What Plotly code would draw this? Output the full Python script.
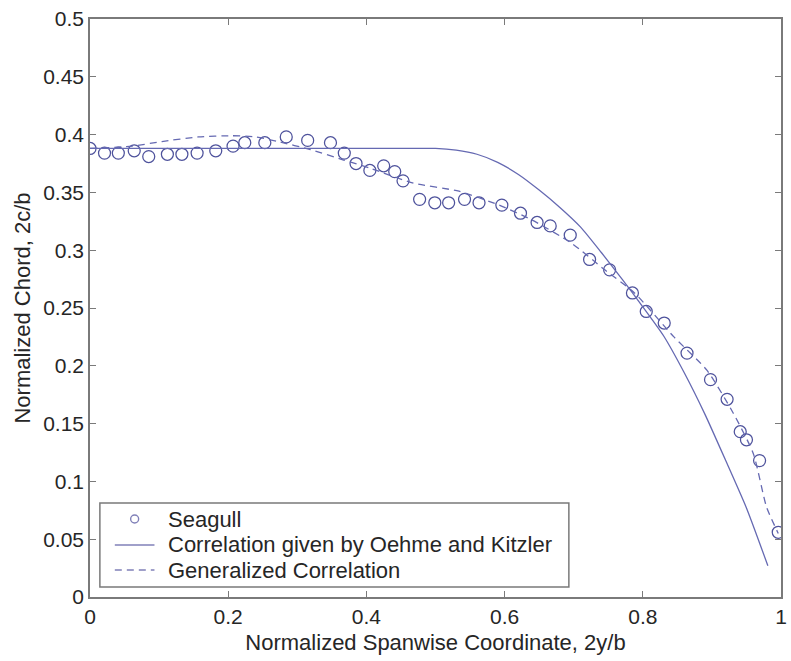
import plotly.graph_objects as go

# Measured seagull wing planform: spanwise station vs. normalized chord
span_seagull = [0.000, 0.021, 0.041, 0.064, 0.085, 0.112, 0.133, 0.155, 0.182, 0.207,
                0.224, 0.253, 0.284, 0.315, 0.348, 0.368, 0.385, 0.405, 0.425, 0.441,
                0.453, 0.477, 0.499, 0.519, 0.542, 0.563, 0.596, 0.623, 0.647, 0.666,
                0.695, 0.723, 0.752, 0.785, 0.805, 0.831, 0.864, 0.898, 0.922, 0.941,
                0.950, 0.969, 0.996]
chord_seagull = [0.388, 0.384, 0.384, 0.386, 0.381, 0.383, 0.383, 0.384, 0.386, 0.390,
                 0.393, 0.393, 0.398, 0.395, 0.393, 0.384, 0.375, 0.369, 0.373, 0.368,
                 0.360, 0.344, 0.341, 0.341, 0.344, 0.341, 0.339, 0.332, 0.324, 0.321,
                 0.313, 0.292, 0.283, 0.263, 0.247, 0.237, 0.211, 0.188, 0.171, 0.143,
                 0.136, 0.118, 0.056]

# Oehme and Kitzler correlation
span_ok = [0.000, 0.100, 0.200, 0.300, 0.400, 0.500, 0.530, 0.560, 0.590, 0.620,
           0.650, 0.680, 0.710, 0.740, 0.770, 0.800, 0.830, 0.860, 0.890, 0.920,
           0.950, 0.981]
chord_ok = [0.388, 0.388, 0.388, 0.388, 0.388, 0.388, 0.3865, 0.383, 0.376, 0.3655,
            0.352, 0.337, 0.320, 0.298, 0.275, 0.251, 0.226, 0.194, 0.158, 0.118,
            0.077, 0.027]

# Generalized correlation
span_gen = [0.000, 0.061, 0.104, 0.157, 0.205, 0.240, 0.272, 0.319, 0.367, 0.405,
            0.468, 0.534, 0.592, 0.640, 0.697, 0.745, 0.788, 0.845, 0.893, 0.931,
            0.960, 0.979, 0.996]
chord_gen = [0.388, 0.390, 0.394, 0.398, 0.399, 0.398, 0.394, 0.387, 0.378, 0.371,
             0.358, 0.351, 0.339, 0.326, 0.306, 0.283, 0.263, 0.225, 0.196, 0.159,
             0.124, 0.078, 0.055]

x_ticks = [0, 0.2, 0.4, 0.6, 0.8, 1.0]
x_tick_text = ["0", "0.2", "0.4", "0.6", "0.8", "1"]
y_ticks = [0, 0.05, 0.1, 0.15, 0.2, 0.25, 0.3, 0.35, 0.4, 0.45, 0.5]
y_tick_text = ["0", "0.05", "0.1", "0.15", "0.2", "0.25", "0.3", "0.35", "0.4", "0.45", "0.5"]

series_names = ["Seagull", "Correlation given by Oehme and Kitzler", "Generalized Correlation"]

mark_color = "#4e529c"
line_color = "#6569b2"
legend_glyph_color = "#8080b8"
axis_color = "#7a7a7a"
text_color = "#262626"
font_family = "Liberation Sans, Arial, sans-serif"

fig = go.Figure()
fig.add_trace(go.Scatter(
    x=span_seagull, y=chord_seagull, mode="markers", name=series_names[0],
    marker=dict(symbol="circle-open", size=12, color=mark_color, line=dict(width=1.25)),
))
fig.add_trace(go.Scatter(
    x=span_ok, y=chord_ok, mode="lines", name=series_names[1],
    line=dict(color=line_color, width=1.3, shape="spline", smoothing=0.6),
))
fig.add_trace(go.Scatter(
    x=span_gen, y=chord_gen, mode="lines", name=series_names[2],
    line=dict(color=line_color, width=1.3, dash="7px,5px", shape="spline", smoothing=0.6),
))

# Compact boxed legend in the lower-left corner (paper coordinates)
box = dict(x0=0.0143, x1=0.693, y0=0.0173, y1=0.1626)
row_y = [0.1349, 0.0900, 0.0467]
glyph_x0, glyph_x1, glyph_xc = 0.0359, 0.0933, 0.0646
text_x = 0.1105

shapes = [dict(type="rect", xref="paper", yref="paper", **box,
               line=dict(color=axis_color, width=1.5), fillcolor="white", layer="above")]
shapes.append(dict(type="circle", xref="paper", yref="paper",
                   xsizemode="pixel", ysizemode="pixel",
                   xanchor=glyph_xc, yanchor=row_y[0], x0=-4, x1=4, y0=-4, y1=4,
                   line=dict(color=legend_glyph_color, width=1.4), layer="above"))
shapes.append(dict(type="line", xref="paper", yref="paper",
                   x0=glyph_x0, x1=glyph_x1, y0=row_y[1], y1=row_y[1],
                   line=dict(color=legend_glyph_color, width=1.3), layer="above"))
shapes.append(dict(type="line", xref="paper", yref="paper",
                   x0=glyph_x0, x1=glyph_x1, y0=row_y[2], y1=row_y[2],
                   line=dict(color=legend_glyph_color, width=1.3, dash="7px,5px"), layer="above"))

annotations = [
    dict(text=name, xref="paper", yref="paper", x=text_x, y=yy,
         xanchor="left", yanchor="middle", showarrow=False,
         font=dict(size=22, color=text_color, family=font_family))
    for name, yy in zip(series_names, row_y)
]

axis_common = dict(
    showgrid=False, zeroline=False, showline=True, mirror="ticks",
    linecolor=axis_color, linewidth=1.5, ticks="inside", ticklen=6,
    tickcolor=axis_color, tickwidth=1.2,
    tickfont=dict(size=21, color=text_color, family=font_family),
)

fig.update_layout(
    width=791, height=661,
    margin=dict(l=90, r=4, t=19, b=64),
    paper_bgcolor="white", plot_bgcolor="white",
    font=dict(family=font_family, color=text_color),
    showlegend=False,
    shapes=shapes,
    annotations=annotations,
    xaxis=dict(
        range=[0, 1], tickvals=x_ticks, ticktext=x_tick_text,
        title=dict(text="Normalized Spanwise Coordinate, 2y/b", standoff=8,
                   font=dict(size=22, color=text_color, family=font_family)),
        **axis_common,
    ),
    yaxis=dict(
        range=[0, 0.5], tickvals=y_ticks, ticktext=y_tick_text,
        title=dict(text="Normalized Chord, 2c/b", standoff=6,
                   font=dict(size=22, color=text_color, family=font_family)),
        **axis_common,
    ),
)

fig.write_html("out.html")
